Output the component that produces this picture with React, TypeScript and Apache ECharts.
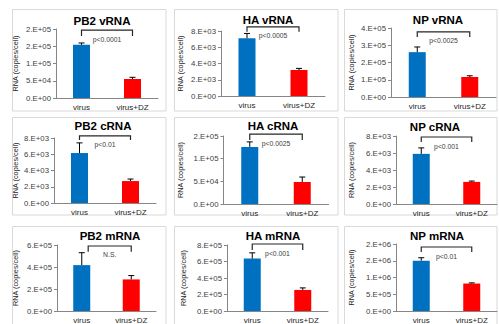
import React, { useEffect, useRef } from "react";
import * as echarts from "echarts";

const categories = ["virus", "virus+DZ"];
const titles = ["PB2 vRNA", "HA vRNA", "NP vRNA", "PB2 cRNA", "HA cRNA", "NP cRNA", "PB2 mRNA", "HA mRNA", "NP mRNA"];
const virusMean = [1.54e5, 7.1e3, 2.6e5, 6.15e3, 1.26e5, 5.9e3, 4.17e5, 6.35e5, 1.5e6];
const virusErr = [5.5e3, 0.6e3, 0.3e5, 1.25e3, 1.1e4, 0.7e3, 1.13e5, 0.7e5, 0.09e6];
const dzMean = [5.5e4, 3.2e3, 1.16e5, 2.7e3, 4.85e4, 2.6e3, 2.87e5, 2.55e5, 8.2e5];
const dzErr = [5e3, 0.2e3, 0.07e5, 0.25e3, 1.1e4, 0.1e3, 0.35e5, 0.25e5, 0.2e5];
const yMax = [2e5, 8e3, 4e5, 8e3, 1.5e5, 8e3, 6e5, 8e5, 2e6];
const yInterval = [5e4, 2e3, 1e5, 2e3, 5e4, 2e3, 2e5, 2e5, 5e5];
const pLabels = ["p<0.0001", "p<0.0005", "p<0.0025", "p<0.01", "p<0.0025", "p<0.001", "N.S.", "p<0.001", "p<0.01"];
const bracketTop = [1.97e5, 8.5e3, 3.77e5, 8.25e3, 1.54e5, 7.88e3, 5.91e5, 8.12e5, 1.91e6];
const bracketEnd = [1.8e5, 7.9e3, 3.48e5, 7.75e3, 1.41e5, 7.3e3, 5.39e5, 7.4e5, 1.76e6];
const bracketStart = [0, 0, 0, 0, 0, 0, 0.13, 0, 0];

// layout (pixels)
const grids = [
  { left: 56, top: 29, width: 102, height: 69 },
  { left: 221, top: 31, width: 104, height: 65 },
  { left: 391, top: 28, width: 105, height: 69 },
  { left: 54, top: 138, width: 102, height: 65 },
  { left: 223.5, top: 136, width: 105, height: 68 },
  { left: 396, top: 136, width: 101, height: 68 },
  { left: 57, top: 245, width: 99, height: 69 },
  { left: 227, top: 245, width: 101, height: 67 },
  { left: 396, top: 244, width: 101, height: 68 },
];
const nameCenterX = [15, 180, 351, 15, 180, 351, 15, 183, 351];
const titlePos = [
  [102, 21], [268, 20], [438, 20],
  [103, 126], [273, 126], [435, 127],
  [110, 236], [273, 236], [437, 236],
];
const colX = [[12.5, 166], [174.5, 338], [344.5, 497]];
const rowY = [[9.5, 111], [117.5, 215], [226.5, 340]];
const barColors = ["#0070C0", "#FF0000"];
const FONT = "'Liberation Sans', Arial, sans-serif";

function sciLabel(v: number): string {
  if (v === 0) return "0.E+00";
  let exp = Math.floor(Math.log10(v) + 1e-9);
  let m = Math.round(v / Math.pow(10, exp));
  if (m >= 10) { m = 1; exp += 1; }
  return `${m}.E+${exp < 10 ? "0" + exp : exp}`;
}

export default function App() {
  const ref = useRef<HTMLDivElement>(null);
  useEffect(() => {
    if (!ref.current) return;
    const chart = echarts.init(ref.current, undefined, { renderer: "svg" });
    const xAxis: any[] = [];
    const yAxis: any[] = [];
    const series: any[] = [];
    const graphic: any[] = [];

    for (let i = 0; i < 9; i++) {
      const r = Math.floor(i / 3), c = i % 3;
      graphic.push({
        type: "rect",
        shape: { x: colX[c][0], y: rowY[r][0], width: colX[c][1] - colX[c][0], height: rowY[r][1] - rowY[r][0] },
        style: { fill: "#ffffff", stroke: "#d9d9d9", lineWidth: 1 },
        z: -10,
      });
      graphic.push({
        type: "text",
        x: titlePos[i][0], y: titlePos[i][1],
        style: { text: titles[i], fontSize: 11.5, fontWeight: "bold", fontFamily: FONT, fill: "#000", align: "center", verticalAlign: "middle" },
        z: 10,
      });
      xAxis.push({
        type: "category", gridIndex: i, data: categories,
        axisLine: { lineStyle: { color: "#868686", width: 1 } },
        axisTick: { show: false },
        axisLabel: { fontSize: 8, color: "#262626", fontFamily: FONT, margin: 5 },
      });
      yAxis.push({
        type: "value", gridIndex: i, min: 0, max: yMax[i], interval: yInterval[i],
        splitLine: { show: false },
        axisLine: { show: true, lineStyle: { color: "#868686", width: 1 } },
        axisTick: { show: true, length: 3, lineStyle: { color: "#868686" } },
        axisLabel: { fontSize: 7.8, color: "#404040", fontFamily: FONT, margin: 5, formatter: (v: number) => sciLabel(v) },
        name: "RNA (copies/cell)", nameLocation: "middle", nameRotate: 90,
        nameGap: grids[i].left - nameCenterX[i] - 3.7,
        nameTextStyle: { fontSize: 7.3, color: "#262626", fontFamily: FONT },
      });
      series.push({
        type: "bar", xAxisIndex: i, yAxisIndex: i, barWidth: 17,
        data: [
          { value: virusMean[i], itemStyle: { color: barColors[0] } },
          { value: dzMean[i], itemStyle: { color: barColors[1] } },
        ],
      });
      series.push({
        type: "custom", xAxisIndex: i, yAxisIndex: i, clip: false, z: 5,
        encode: { x: 0, y: 1 },
        data: [[0, virusMean[i], virusErr[i]], [1, dzMean[i], dzErr[i]]],
        renderItem: (params: any, api: any) => {
          const idx = api.value(0), v = api.value(1), e = api.value(2);
          const b = api.coord([idx, v]);
          const t = api.coord([idx, v + e]);
          const st = { stroke: "#000", lineWidth: 1 };
          return {
            type: "group",
            children: [
              { type: "line", shape: { x1: b[0], y1: b[1], x2: t[0], y2: t[1] }, style: st },
              { type: "line", shape: { x1: t[0] - 3, y1: t[1], x2: t[0] + 3, y2: t[1] }, style: st },
            ],
          };
        },
      });
      series.push({
        type: "custom", xAxisIndex: i, yAxisIndex: i, clip: false, z: 6,
        encode: { x: 0, y: 2 },
        data: [[bracketStart[i], 1, bracketTop[i], bracketEnd[i]]],
        renderItem: (params: any, api: any) => {
          const frac = api.value(0), top = api.value(2), end = api.value(3);
          const a = api.coord([0, top]);
          const b = api.coord([1, top]);
          const lo = api.coord([0, end]);
          const x0 = a[0] + frac * (b[0] - a[0]);
          const x1 = b[0];
          const st = { stroke: "#262626", lineWidth: 1.2, fill: "none" };
          return {
            type: "group",
            children: [
              { type: "polyline", shape: { points: [[x0, lo[1]], [x0, a[1]], [x1, a[1]], [x1, lo[1]]] }, style: st },
              {
                type: "text",
                style: {
                  text: pLabels[i], x: (x0 + x1) / 2, y: a[1] + 9,
                  fontSize: 6.8, fontFamily: FONT, fill: "#404040", align: "center", verticalAlign: "middle",
                },
              },
            ],
          };
        },
      });
    }

    chart.setOption({
      animation: false,
      backgroundColor: "#ffffff",
      grid: grids.map((g) => ({ ...g, containLabel: false })),
      xAxis, yAxis, series, graphic,
    });
    return () => chart.dispose();
  }, []);
  return <div ref={ref} style={{ position: "fixed", left: 0, top: 0, width: 499, height: 324 }} />;
}
